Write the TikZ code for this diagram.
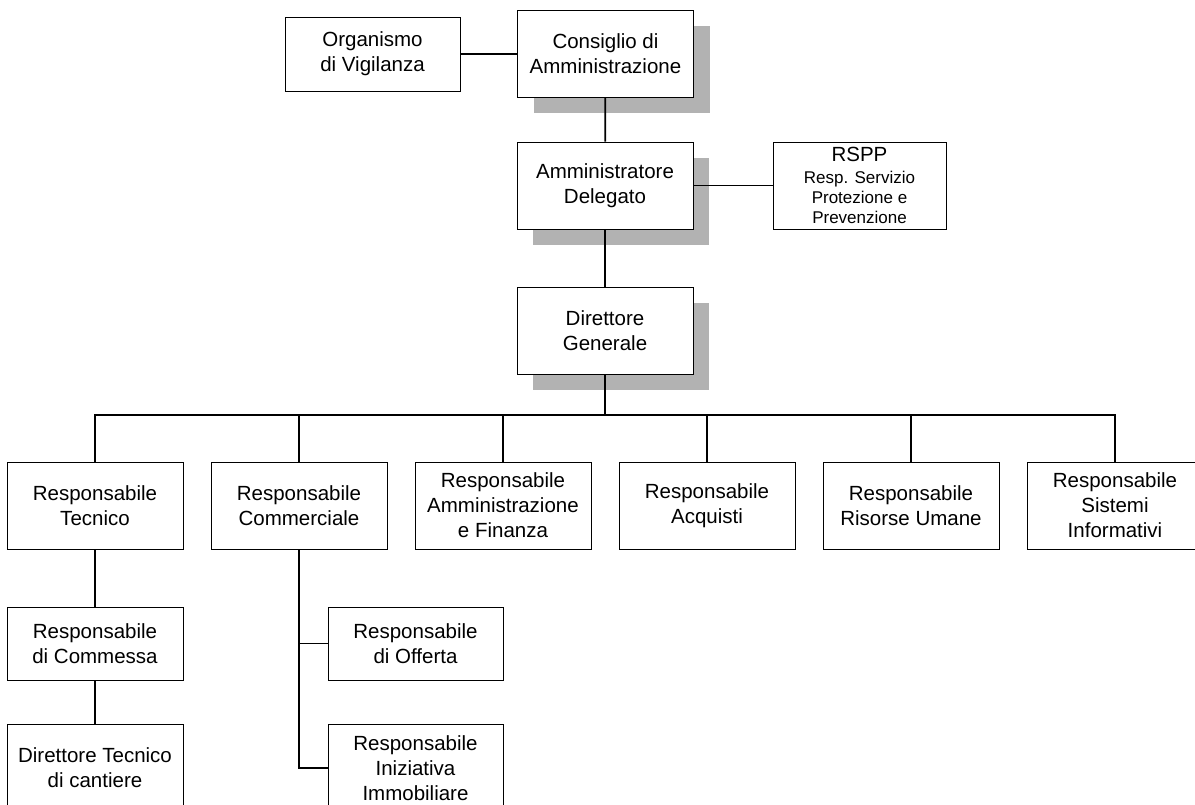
\documentclass[tikz,border=0pt]{standalone}
\usepackage{fontspec}
\setmainfont{Liberation Sans}
\usetikzlibrary{shadows}
\usetikzlibrary{positioning}

\newcommand{\subf}{\fontsize{17}{20}\selectfont}

\begin{document}
\begin{tikzpicture}[x=1pt,y=-1pt,
  box/.style={draw,fill=white,line width=0.9pt,minimum width=176pt,minimum height=87pt,
    inner sep=0pt,align=center,font=\fontsize{20.5}{25}\selectfont},
  topbox/.style={box,drop shadow={shadow xshift=16pt,shadow yshift=-16pt,fill=black!30,opacity=1}},
  link/.style={line width=1.7pt}]

  \useasboundingbox (0,0) rectangle (1195,805);

  % Top of the chart
  \node[topbox] (cda) at (605.5,54) {Consiglio di\\Amministrazione};
  \node[box,minimum height=74pt,minimum width=175pt] (ov) at (372.5,54) {Organismo\\di Vigilanza};
  \node[topbox] (ad) at (605,185.5) {Amministratore\\Delegato};
  \node[box,minimum width=173pt] (rspp) at (859.5,185.5)
    {RSPP\\[-3pt]\subf Resp. Servizio\\[-5pt]\subf Protezione e\\[-5pt]\subf Prevenzione};
  \node[topbox] (dg) at (605,330.5) {Direttore\\Generale};
  \coordinate (bus) at (605,415);

  % Responsabili
  \foreach \c [count=\x from 0] in {{Responsabile\\Tecnico},{Responsabile\\Commerciale},
      {Responsabile\\Amministrazione\\e Finanza},{Responsabile\\Acquisti},
      {Responsabile\\Risorse Umane},{Responsabile\\Sistemi\\Informativi}}
    \node[box] (r\x) at (95+204*\x,505.5) {\c};

  % Lower levels
  \node[box,minimum height=73pt] (rcm) at (95,643.5) {Responsabile\\di Commessa};
  \node[box,minimum height=88pt] (rdt) at (95,768) {Direttore Tecnico\\di cantiere};
  \node[box,minimum height=73pt,minimum width=175pt] (rof) at (415.5,643.5) {Responsabile\\di Offerta};
  \node[box,minimum height=88pt,minimum width=175pt] (rii) at (415.5,768) {Responsabile\\Iniziativa\\Immobiliare};

  % Links
  \draw[link] (ov) -- (cda);
  \draw[link] (cda) -- (ad);
  \draw[link] (ad) -- (rspp);
  \draw[link] (ad) -- (dg);
  \draw[link] (dg) -- (bus);
  \draw[link] (r0.north) |- (bus) -| (r5.north);
  \foreach \x in {1,...,4}
    {\draw[link] (r\x.north) -- (r\x.north |- bus);}
  \draw[link] (r0) -- (rcm) -- (rdt);
  \draw[link] (r1.south) |- (rof.west);
  \draw[link] (r1.south) |- (rii.west);
\end{tikzpicture}
\end{document}
